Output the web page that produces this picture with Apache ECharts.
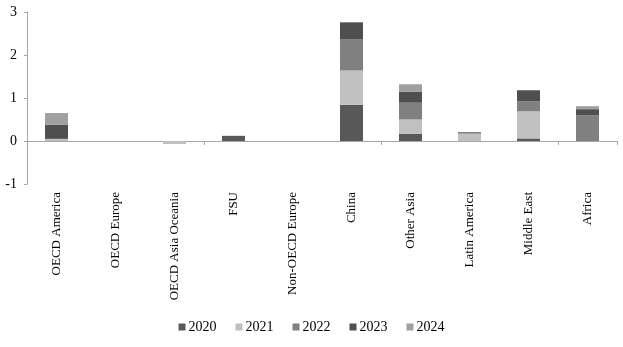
<!DOCTYPE html>
<html><head><meta charset="utf-8">
<script src="https://cdn.jsdelivr.net/npm/echarts@6/dist/echarts.min.js"></script>
<style>html,body{margin:0;padding:0;background:#fff}#c{width:623px;height:347px}</style>
</head><body><div id="c"></div>
<script>
var categories = ['OECD America','OECD Europe','OECD Asia Oceania','FSU','Non-OECD Europe','China','Other Asia','Latin America','Middle East','Africa'];
var seriesNames = ['2020','2021','2022','2023','2024'];
var s2020 = [0, 0, 0, 0.12, 0, 0.84, 0.17, 0, 0.06, 0];
var s2021 = [0.05, 0, -0.07, 0, 0, 0.80, 0.33, 0.17, 0.63, 0];
var s2022 = [0, 0, 0, 0, 0, 0.73, 0.39, 0.04, 0.23, 0.60];
var s2023 = [0.33, 0, 0, 0, 0, 0.39, 0.26, 0, 0.26, 0.14];
var s2024 = [0.27, 0, 0, 0, 0, 0, 0.17, 0, 0, 0.07];
var yTicks = [-1, 3, 1];
var colors = ['#585858','#c0c0c0','#808080','#4f4f4f','#a0a0a0'];
var data = [s2020, s2021, s2022, s2023, s2024];
var font = 'Liberation Serif';
var chart = echarts.init(document.getElementById('c'), null, {renderer:'canvas'});
chart.setOption({
  animation:false,
  color: colors,
  grid:{left:27, right:6, top:12, bottom:163, containLabel:false},
  legend:{
    data: seriesNames, bottom:8, left:'center', icon:'rect', itemWidth:7, itemHeight:7, itemGap:19,
    textStyle:{fontFamily:font, fontSize:14, color:'#000', padding:[0,0,0,-2]}
  },
  xAxis:[{
    type:'category', data:categories,
    axisLine:{onZero:true, lineStyle:{color:'#a6a6a6'}},
    axisTick:{show:true, length:4, lineStyle:{color:'#a6a6a6'}},
    axisLabel:{show:false}, splitLine:{show:false}
  },{
    type:'category', data:categories, position:'bottom',
    axisLine:{show:false, onZero:false}, axisTick:{show:false},
    axisLabel:{show:true, rotate:90, interval:0, margin:8, fontFamily:font, fontSize:13, color:'#000'}
  }],
  yAxis:{
    type:'value', min:yTicks[0], max:yTicks[1], interval:yTicks[2],
    axisLine:{show:true, lineStyle:{color:'#a6a6a6'}},
    axisTick:{show:true, inside:false, length:3, lineStyle:{color:'#a6a6a6'}},
    axisLabel:{fontFamily:font, fontSize:14, color:'#000', margin:10},
    splitLine:{show:false}
  },
  series: seriesNames.map(function(n,i){
    return {name:n, type:'bar', stack:'total', xAxisIndex:0, data:data[i], barWidth:'39%',
      itemStyle:{color:colors[i]}};
  })
});
</script></body></html>
